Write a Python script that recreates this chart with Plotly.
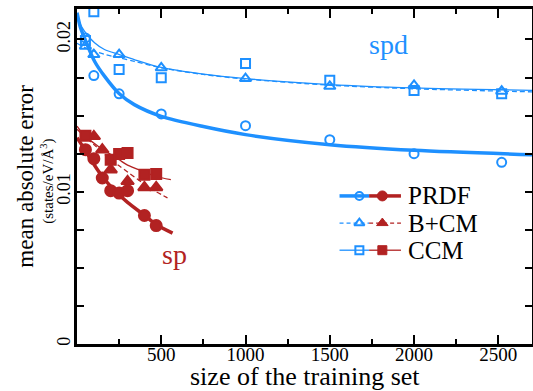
import plotly.graph_objects as go

BLUE = "#1E90FF"
RED = "#B22222"
FONT = "Liberation Serif"

# ---- spd data (open markers, blue) ----
spd_x = [50, 100, 250, 500, 1000, 1500, 2000, 2520]
spd_prdf = [0.0201, 0.01763, 0.01643, 0.01511, 0.01434, 0.01342, 0.0125, 0.01193]
spd_bcm = [0.01956, 0.01901, 0.01901, 0.01814, 0.01743, 0.01692, 0.01698, 0.0166]
spd_ccm = [0.01993, 0.02182, 0.01803, 0.01748, 0.01842, 0.01732, 0.01664, 0.01643]

# fitted curves for spd
spd_fit_x = [0, 20, 44, 104, 163, 251, 340, 500, 750, 1000, 1500, 2000, 2700]
spd_prdf_fit = [0.02176, 0.0208, 0.02011, 0.01857, 0.01759, 0.01643, 0.01572,
                0.01495, 0.01428, 0.01375, 0.01309, 0.01272, 0.01243]
spd_bcm_fit = [0.01975, 0.01962, 0.01948, 0.01923, 0.01902, 0.0188, 0.01856,
               0.01814, 0.0177, 0.0174, 0.017, 0.01676, 0.01656]
spd_ccm_fit = [0.0217, 0.021, 0.02055, 0.01978, 0.01934, 0.01901, 0.01868,
               0.01816, 0.01772, 0.01743, 0.01704, 0.01682, 0.01666]

# ---- sp data (filled markers, red) ----
sp_prdf_x = [50, 100, 150, 200, 250, 300, 400, 470]
sp_prdf = [0.01276, 0.01217, 0.0109, 0.01007, 0.00991, 0.01007, 0.00844, 0.00778]
sp_bcm_x = [100, 150, 200, 300, 400, 470]
sp_bcm = [0.01364, 0.01276, 0.01145, 0.01068, 0.01028, 0.01028]
sp_ccm_x = [50, 200, 250, 300, 400, 470]
sp_ccm = [0.01368, 0.0121, 0.01248, 0.01255, 0.01112, 0.01116]

# fitted curves for sp
sp_prdf_fit_x = [0, 50, 100, 150, 200, 250, 300, 400, 470, 567]
sp_prdf_fit = [0.01355, 0.0127, 0.0118, 0.011, 0.01035, 0.0098, 0.0093, 0.00845, 0.00785, 0.00728]
sp_bcm_fit_x = [0, 50, 100, 150, 200, 250, 300, 400, 470, 537]
sp_bcm_fit = [0.0143, 0.0136, 0.0131, 0.0126, 0.0121, 0.0117, 0.0113, 0.0105, 0.01, 0.0096]
sp_ccm_fit_x = [0, 50, 100, 150, 200, 250, 300, 400, 470, 557]
sp_ccm_fit = [0.0141, 0.0136, 0.0132, 0.0128, 0.01245, 0.0121, 0.01175, 0.0113, 0.011, 0.01079]

# ticks
x_tickvals = [500, 1000, 1500, 2000, 2500]
x_ticktext = ["500", "1000", "1500", "2000", "2500"]
y_tickvals = [0, 0.0025, 0.005, 0.0075, 0.01, 0.0125, 0.015, 0.0175, 0.02]
y_ticktext = ["0", "", "", "", "0.01", "", "", "", "0.02"]

legend_names = ["PRDF", "B+CM", "CCM"]

fig = go.Figure()

# fit curves
fits = [
    (spd_fit_x, spd_prdf_fit, BLUE, 3.5, "solid"),
    (spd_fit_x, spd_bcm_fit, BLUE, 1.3, "5px,3px"),
    (spd_fit_x, spd_ccm_fit, BLUE, 1.3, "solid"),
    (sp_prdf_fit_x, sp_prdf_fit, RED, 3.5, "solid"),
    (sp_bcm_fit_x, sp_bcm_fit, RED, 1.3, "5px,3px"),
    (sp_ccm_fit_x, sp_ccm_fit, RED, 1.3, "solid"),
]
for fx, fy, c, w, d in fits:
    fig.add_trace(go.Scatter(x=fx, y=fy, mode="lines",
                             line=dict(color=c, width=w, dash=d, shape="spline", smoothing=0.8),
                             showlegend=False, hoverinfo="skip"))

# data markers
pts = [
    (spd_x, spd_prdf, BLUE, "circle-open", 9),
    (spd_x, spd_bcm, BLUE, "triangle-up-open", 10),
    (spd_x, spd_ccm, BLUE, "square-open", 9),
    (sp_bcm_x, sp_bcm, RED, "triangle-up", 11),
    (sp_ccm_x, sp_ccm, RED, "square", 10),
    (sp_prdf_x, sp_prdf, RED, "circle", 11),
]
for px_, py_, c, s, sz in pts:
    fig.add_trace(go.Scatter(x=px_, y=py_, mode="markers",
                             marker=dict(symbol=s, size=sz, color=c, line=dict(color=c, width=2)),
                             showlegend=False))

# custom two-colour legend drawn on an overlay axis
leg_rows_y = [0.442, 0.361, 0.28]
leg_styles = [("circle", 3.5, "solid", 9, 11), ("triangle-up", 1.3, "4px,3px", 10, 11),
              ("square", 1.3, "solid", 9, 10)]
for yy, (sym, w, d, szo, szf), name in zip(leg_rows_y, leg_styles, legend_names):
    fig.add_trace(go.Scatter(x=[0.577, 0.642], y=[yy, yy], xaxis="x2", yaxis="y2", mode="lines",
                             line=dict(color=BLUE, width=w, dash=d), showlegend=False, hoverinfo="skip"))
    fig.add_trace(go.Scatter(x=[0.642, 0.712], y=[yy, yy], xaxis="x2", yaxis="y2", mode="lines",
                             line=dict(color=RED, width=w, dash=d), showlegend=False, hoverinfo="skip"))
    fig.add_trace(go.Scatter(x=[0.6206], y=[yy], xaxis="x2", yaxis="y2", mode="markers",
                             marker=dict(symbol=sym + "-open", size=szo - 1, color=BLUE,
                                         line=dict(color=BLUE, width=2)),
                             showlegend=False, hoverinfo="skip"))
    fig.add_trace(go.Scatter(x=[0.6711], y=[yy], xaxis="x2", yaxis="y2", mode="markers",
                             marker=dict(symbol=sym, size=szf - 1, color=RED, line=dict(color=RED, width=1)),
                             showlegend=False, hoverinfo="skip"))
    fig.add_annotation(x=0.722, y=yy, xref="x2", yref="y2", text=name, showarrow=False,
                       xanchor="left", yanchor="middle", font=dict(family=FONT, size=25, color="black"))

# labels
fig.add_annotation(x=1849, y=0.0197, text="spd", showarrow=False,
                   font=dict(family=FONT, size=28, color=BLUE))
fig.add_annotation(x=577, y=0.00586, text="sp", showarrow=False,
                   font=dict(family=FONT, size=28, color=RED))

# axis titles
fig.add_annotation(x=-0.114, y=0.5, xref="paper", yref="paper", text="mean absolute error",
                   textangle=-90, showarrow=False, xanchor="center", yanchor="middle",
                   font=dict(family=FONT, size=23, color="black"))
fig.add_annotation(x=-0.064, y=0.487, xref="paper", yref="paper",
                   text="(states/eV/Å<sup>3</sup>)",
                   textangle=-90, showarrow=False, xanchor="center", yanchor="middle",
                   font=dict(family=FONT, size=15, color="black"))
fig.add_annotation(x=0.5, y=-0.098, xref="paper", yref="paper", text="size of the training set",
                   showarrow=False, xanchor="center", yanchor="middle",
                   font=dict(family=FONT, size=26, color="black"))

axis_common = dict(showgrid=False, zeroline=False, showline=True, linecolor="black",
                   linewidth=2.5, mirror="ticks", ticks="inside", tickcolor="black",
                   tickwidth=2, automargin=False)

fig.update_layout(
    width=533, height=391,
    autosize=False,
    margin=dict(l=77, r=1, t=9, b=47, pad=0, autoexpand=False),
    paper_bgcolor="white", plot_bgcolor="white",
    font=dict(family=FONT, color="black"),
    xaxis=dict(range=[0, 2700], tickvals=x_tickvals, ticktext=x_ticktext, ticklen=9,
               tickfont=dict(family=FONT, size=19), ticklabelstandoff=-9,
               minor=dict(dtick=250, tick0=0, ticklen=5, ticks="inside", tickcolor="black", tickwidth=2),
               **axis_common),
    yaxis=dict(range=[0, 0.022], tickvals=y_tickvals, ticktext=y_ticktext, ticklen=7,
               tickangle=-90, tickfont=dict(family=FONT, size=18), ticklabelstandoff=-3,
               **axis_common),
    xaxis2=dict(range=[0, 1], overlaying="x", visible=False, fixedrange=True),
    yaxis2=dict(range=[0, 1], overlaying="y", visible=False, fixedrange=True),
    showlegend=False,
)

fig.write_html("out.html", config={"displayModeBar": False},
               post_script="document.body.style.margin='0';document.body.style.overflow='hidden';")
